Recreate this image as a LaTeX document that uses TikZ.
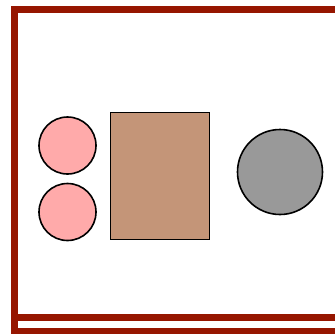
\documentclass[tikz,border=0pt]{standalone}
\usetikzlibrary{positioning}
\definecolor{framered}{RGB}{150,22,0}
\definecolor{dotpink}{RGB}{255,170,170}
\definecolor{boxtan}{RGB}{196,149,120}
\definecolor{ballgray}{RGB}{153,153,153}
\tikzset{
  frameline/.style={framered, line width=7pt},
  dot/.style={circle, draw=black, line width=1.6pt, fill=dotpink, minimum size=57pt, inner sep=0pt},
  block/.style={rectangle, draw=black, line width=1.8pt, fill=boxtan, minimum width=99pt, minimum height=127pt, inner sep=0pt},
  ball/.style={circle, draw=black, line width=1.6pt, fill=ballgray, minimum size=85pt, inner sep=0pt}
}
\begin{document}
\begin{tikzpicture}[x=1pt, y=-1pt]
  \useasboundingbox (0,0) rectangle (335,333);
  \clip (0,0) rectangle (335,333);
  % frame
  \draw[frameline] (340,9.5) -- (14.5,9.5) -- (14.5,340);
  \draw[frameline] (14.5,317) -- (340,317);
  \draw[frameline] (14.5,331.5) -- (340,331.5);
  % shapes
  \node[dot] (dottop) at (67.5,145.5) {};
  \node[dot] (dotbottom) at (67.5,212) {};
  \node[block] (box) at (160,176) {};
  \node[ball] (ball) at (280,172) {};
\end{tikzpicture}
\end{document}
